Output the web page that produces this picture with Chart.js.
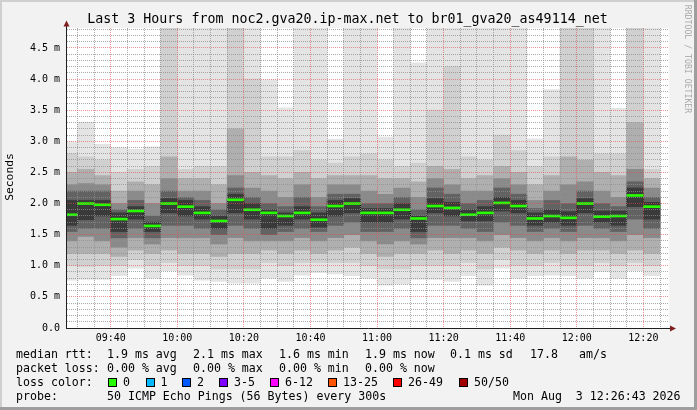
<!DOCTYPE html>
<html><head><meta charset="utf-8">
<script src="https://cdn.jsdelivr.net/npm/chart.js@4.4.1/dist/chart.umd.min.js"></script>
<style>
html,body{margin:0;padding:0;background:#f2f2f2;}
#wrap{position:relative;width:697px;height:410px;overflow:hidden;font-family:'DejaVu Sans Mono',monospace;color:#000;}
#c{position:absolute;left:0;top:0;}
.t{position:absolute;white-space:pre;line-height:14px;font-size:11.6px;}
#title{position:absolute;left:-1px;width:697px;top:11.4px;text-align:center;font-size:13.3px;line-height:16px;white-space:pre;}
#ylab{position:absolute;left:-30px;top:169.7px;width:80px;height:14px;line-height:14px;text-align:center;font-size:11.3px;transform:rotate(-90deg);}
#wm{position:absolute;left:627.5px;top:54px;width:120px;height:10px;line-height:10px;text-align:center;font-size:8.2px;color:rgba(0,0,0,0.32);transform:rotate(90deg);white-space:pre;}
.box{position:absolute;width:7px;height:7px;border:1px solid #000;top:377.7px;}
</style></head>
<body><div id="wrap"><canvas id="c" width="697" height="410"></canvas>
<div id="title">Last 3 Hours from noc2.gva20.ip-max.net to br01_gva20_as49114_net</div>
<div id="ylab">Seconds</div>
<div id="wm">RRDTOOL / TOBI OETIKER</div>
<div id="legend"></div>
</div>
<script>
// ---- data ----
const slots = ['09:25','09:30','09:35','09:40','09:45','09:50','09:55','10:00','10:05','10:10','10:15','10:20','10:25','10:30','10:35','10:40','10:45','10:50','10:55','11:00','11:05','11:10','11:15','11:20','11:25','11:30','11:35','11:40','11:45','11:50','11:55','12:00','12:05','12:10','12:15','12:20'];
const medianRtt = [1.82,2.00,1.98,1.75,1.88,1.64,2.00,1.95,1.85,1.72,2.06,1.90,1.85,1.80,1.85,1.74,1.96,2.00,1.85,1.85,1.90,1.76,1.96,1.93,1.82,1.85,2.01,1.96,1.76,1.80,1.77,2.00,1.79,1.80,2.13,1.95];
const smokeMax = [2.99,3.31,2.95,2.90,2.87,2.91,5.6,5.4,5.2,5.2,5.8,5.3,3.99,3.54,5.3,5.2,3.03,5.2,5.3,3.07,5.2,4.26,5.3,5.2,5.2,5.2,5.3,5.2,3.04,3.83,5.6,5.6,5.2,3.53,5.8,5.3];
const smokeMin = [0.77,0.78,0.78,0.84,0.96,0.80,0.92,0.85,0.77,0.75,0.72,0.72,0.80,0.75,0.85,0.89,0.87,0.84,0.80,0.69,0.71,0.78,0.78,0.75,0.84,0.69,0.96,0.80,0.84,0.85,0.84,0.80,0.91,0.80,0.92,0.84];
const band2Hi = [2.8,2.75,2.7,2.5,2.55,2.6,5.3,2.55,2.6,2.6,5.4,4.0,2.75,2.75,2.85,2.7,2.65,2.75,2.8,2.7,2.6,2.65,3.5,4.2,2.75,2.7,3.1,2.85,2.6,2.75,5.3,5.3,2.8,2.8,5.4,2.55];
const band2Lo = [1.0,0.99,1.0,1.0,1.1,1.0,1.05,1.0,1.0,0.95,0.95,0.95,1.05,1.0,1.05,1.05,1.05,1.05,1.0,0.95,0.95,1.0,1.0,1.0,1.05,0.95,1.1,1.0,1.0,1.05,1.0,1.0,1.05,1.0,1.05,1.0];
const band3Hi = [2.5,2.55,2.45,2.2,2.35,2.3,2.75,2.4,2.4,2.3,3.2,2.5,2.45,2.4,2.5,2.4,2.45,2.45,2.45,2.4,2.4,2.35,2.6,2.55,2.4,2.45,2.6,2.5,2.3,2.45,2.75,2.7,2.5,2.45,3.3,2.4];
const band3Lo = [1.2,1.2,1.2,1.15,1.25,1.2,1.25,1.2,1.2,1.15,1.2,1.2,1.25,1.2,1.25,1.2,1.25,1.3,1.2,1.15,1.2,1.2,1.25,1.2,1.25,1.2,1.3,1.25,1.2,1.25,1.2,1.25,1.25,1.2,1.25,1.2];
const band4Hi = [2.3,2.32,2.3,2.0,2.2,2.0,2.4,2.2,2.2,2.0,2.45,2.25,2.2,2.1,2.3,2.1,2.3,2.3,2.2,2.15,2.25,2.1,2.4,2.3,2.2,2.2,2.4,2.3,2.05,2.2,2.3,2.35,2.2,2.1,2.55,2.25];
const band4Lo = [1.4,1.47,1.4,1.3,1.45,1.35,1.45,1.45,1.45,1.35,1.45,1.4,1.4,1.4,1.45,1.4,1.45,1.5,1.4,1.35,1.4,1.35,1.45,1.45,1.45,1.4,1.5,1.45,1.4,1.45,1.4,1.45,1.45,1.4,1.5,1.45];
const band5Hi = [2.2,2.2,2.2,1.9,2.05,1.8,2.2,2.1,2.05,1.9,2.25,2.1,2.0,1.95,2.1,1.95,2.15,2.15,2.0,2.0,2.1,1.9,2.25,2.15,2.0,2.05,2.25,2.15,1.92,2.05,2.0,2.2,2.0,1.95,2.35,2.1];
const band5Lo = [1.55,1.6,1.6,1.45,1.6,1.45,1.65,1.65,1.6,1.5,1.65,1.6,1.5,1.55,1.6,1.55,1.65,1.7,1.55,1.55,1.6,1.45,1.65,1.65,1.6,1.55,1.7,1.65,1.55,1.6,1.55,1.65,1.6,1.55,1.75,1.6];
const coreHi = [2.05,2.05,2.05,1.85,1.95,1.7,2.08,2.05,1.95,1.8,2.15,2.0,1.9,1.85,1.95,1.85,2.05,2.08,1.92,1.92,2.0,1.8,2.08,2.02,1.9,1.95,2.1,2.05,1.85,1.9,1.87,2.08,1.88,1.88,2.25,2.02];
const coreLo = [1.65,1.74,1.8,1.55,1.75,1.55,1.85,1.8,1.75,1.6,1.85,1.75,1.6,1.65,1.75,1.62,1.8,1.85,1.7,1.7,1.75,1.55,1.85,1.8,1.72,1.72,1.88,1.85,1.65,1.7,1.65,1.85,1.7,1.65,1.95,1.75];
const xTickLabels = ['09:40','10:00','10:20','10:40','11:00','11:20','11:40','12:00','12:20'];
const yTickLabels = ['0.0','0.5 m','1.0 m','1.5 m','2.0 m','2.5 m','3.0 m','3.5 m','4.0 m','4.5 m'];
const lossLabels = ['0','1','2','3-5','6-12','13-25','26-49','50/50'];
const lossColors = ['#26ff00','#00b8ff','#0059ff','#7e00ff','#ff00ff','#ff5500','#ff0000','#a10000'];

// ---- helpers ----
const toMin = s => { const p = s.split(':').map(Number); return p[0]*60 + p[1] + (p[2]||0)/60; };
const SLOT = 5;
const centers = slots.map(s => toMin(s) + SLOT/2);
const xMin = toMin('09:26:52'), xMax = toMin('12:27:42');
const yMax = 4.821;
const majorX = xTickLabels.map(toMin);

const layers = [
  [smokeMin, smokeMax, '#e4e4e4'],
  [band2Lo, band2Hi, '#d0d0d0'],
  [band3Lo, band3Hi, '#afafaf'],
  [band4Lo, band4Hi, '#8a8a8a'],
  [band5Lo, band5Hi, '#626262'],
  [coreLo, coreHi, '#3a3a3a']
];
const CLIP = {left:0, top:0, right:0, bottom:0};
const datasets = layers.map((L, i) => ({
  type: 'bar',
  data: centers.map((x, k) => ({x, y: [L[0][k], L[1][k]]})),
  backgroundColor: L[2], borderWidth: 0, grouped: false,
  barPercentage: 1, categoryPercentage: 1, order: 20 - i, clip: CLIP
}));
datasets.push({
  type: 'line',
  data: centers.map((x, k) => ({x, y: medianRtt[k]})),
  borderColor: '#000', borderWidth: 1, borderDash: [1,1], stepped: 'middle',
  pointRadius: 0, fill: false, order: 2, clip: CLIP
});
datasets.push({
  type: 'bar',
  data: centers.map((x, k) => ({x, y: [medianRtt[k] - 0.016, medianRtt[k] + 0.016]})),
  backgroundColor: lossColors[0], borderWidth: 0, grouped: false,
  barPercentage: 1, categoryPercentage: 1, order: 1, clip: CLIP
});

const frame = {
  id: 'frame',
  beforeDraw(chart) {
    const c = chart.ctx, a = chart.chartArea;
    c.save();
    c.fillStyle = '#f2f2f2'; c.fillRect(0, 0, 697, 410);
    c.fillStyle = '#cfcfcf'; c.fillRect(0, 0, 697, 2); c.fillRect(0, 0, 2, 410);
    c.fillStyle = '#9e9e9e'; c.fillRect(0, 407, 697, 3); c.fillRect(694, 0, 3, 410);
    c.fillStyle = '#ffffff'; c.fillRect(a.left, a.top, a.right - a.left, a.bottom - a.top);
    c.restore();
  },
  afterDraw(chart) {
    const c = chart.ctx, a = chart.chartArea;
    c.save();
    c.strokeStyle = '#1f1f1f'; c.lineWidth = 1;
    c.beginPath();
    c.moveTo(a.left - 0.5, 23); c.lineTo(a.left - 0.5, a.bottom + 1);
    c.moveTo(a.left - 1, a.bottom + 0.5); c.lineTo(a.right + 2, a.bottom + 0.5);
    c.stroke();
    c.fillStyle = '#801f1f';
    c.beginPath(); c.moveTo(a.left - 3.5, 26.5); c.lineTo(a.left + 2.5, 26.5); c.lineTo(a.left - 0.5, 20.5); c.closePath(); c.fill();
    c.beginPath(); c.moveTo(a.right + 1, a.bottom - 2.5); c.lineTo(a.right + 1, a.bottom + 3.5); c.lineTo(a.right + 7, a.bottom + 0.5); c.closePath(); c.fill();
    c.restore();
  }
};

const minorX = [], minorY = [];
for (let m = Math.ceil(xMin / SLOT) * SLOT; m <= xMax; m += SLOT) minorX.push(m);
for (let i = 0; i <= Math.floor(yMax * 10); i++) minorY.push(i / 10);
const isMajorY = v => Math.round(v * 10) % 5 === 0;
const gridMinor = 'rgba(143,143,143,0.75)', gridMajor = 'rgba(222,79,79,0.6)';

new Chart(document.getElementById('c'), {
  data: { datasets },
  plugins: [frame],
  options: {
    responsive: false, animation: false, devicePixelRatio: 1,
    layout: { padding: { top: 28, right: 28, left: 0, bottom: 0 } },
    plugins: { legend: { display: false }, tooltip: { enabled: false } },
    scales: {
      x: {
        type: 'linear', min: xMin, max: xMax, offset: false,
        afterFit: s => { s.height = 82; },
        afterBuildTicks: s => { s.ticks = minorX.map(v => ({value: v})); },
        ticks: { autoSkip: false, maxRotation: 0, padding: 4, color: '#000',
          font: { family: 'DejaVu Sans Mono', size: 10 },
          callback: v => { const i = majorX.indexOf(v); return i >= 0 ? xTickLabels[i] : ''; } },
        grid: { offset: false, drawTicks: false, lineWidth: 1, z: 1,
          color: ctx => (ctx.tick && majorX.includes(ctx.tick.value)) ? gridMajor : gridMinor },
        border: { display: false, dash: [1, 1] }
      },
      y: {
        type: 'linear', min: 0, max: yMax,
        afterFit: s => { s.width = 67; },
        afterBuildTicks: s => { s.ticks = minorY.map(v => ({value: v})); },
        ticks: { autoSkip: false, padding: 7, color: '#000',
          font: { family: 'DejaVu Sans Mono', size: 10 },
          callback: v => isMajorY(v) ? yTickLabels[Math.round(v * 2)] : '' },
        grid: { offset: false, drawTicks: false, lineWidth: 1, z: 1,
          color: ctx => (ctx.tick && isMajorY(ctx.tick.value)) ? gridMajor : gridMinor },
        border: { display: false, dash: [1, 1] }
      }
    }
  }
});

// ---- legend (HTML text) ----
const legendRows = [
  { top: 347.3, items: [[16, 'median rtt:'], [107, '1.9 ms avg'], [193, '2.1 ms max'], [279, '1.6 ms min'], [365, '1.9 ms now'], [450, '0.1 ms sd'], [530, '17.8'], [579, 'am/s']] },
  { top: 360.7, items: [[16, 'packet loss:'], [107, '0.00 % avg'], [193, '0.00 % max'], [279, '0.00 % min'], [365, '0.00 % now']] },
  { top: 374.7, items: [[16, 'loss color:']] },
  { top: 389.0, items: [[16, 'probe:'], [107, '50 ICMP Echo Pings (56 Bytes) every 300s'], [513, 'Mon Aug  3 12:26:43 2026']] }
];
const lossBoxX = [108, 145.5, 182, 219, 270, 328, 393, 459];
const lg = document.getElementById('legend');
legendRows.forEach(r => r.items.forEach(([x, txt]) => {
  const d = document.createElement('div'); d.className = 't';
  d.style.left = x + 'px'; d.style.top = r.top + 'px'; d.textContent = txt; lg.appendChild(d);
}));
lossLabels.forEach((lab, i) => {
  const b = document.createElement('div'); b.className = 'box';
  b.style.left = lossBoxX[i] + 'px'; b.style.background = lossColors[i]; lg.appendChild(b);
  const d = document.createElement('div'); d.className = 't';
  d.style.left = (lossBoxX[i] + 15) + 'px'; d.style.top = '374.7px'; d.textContent = lab; lg.appendChild(d);
});
</script>
</body></html>
